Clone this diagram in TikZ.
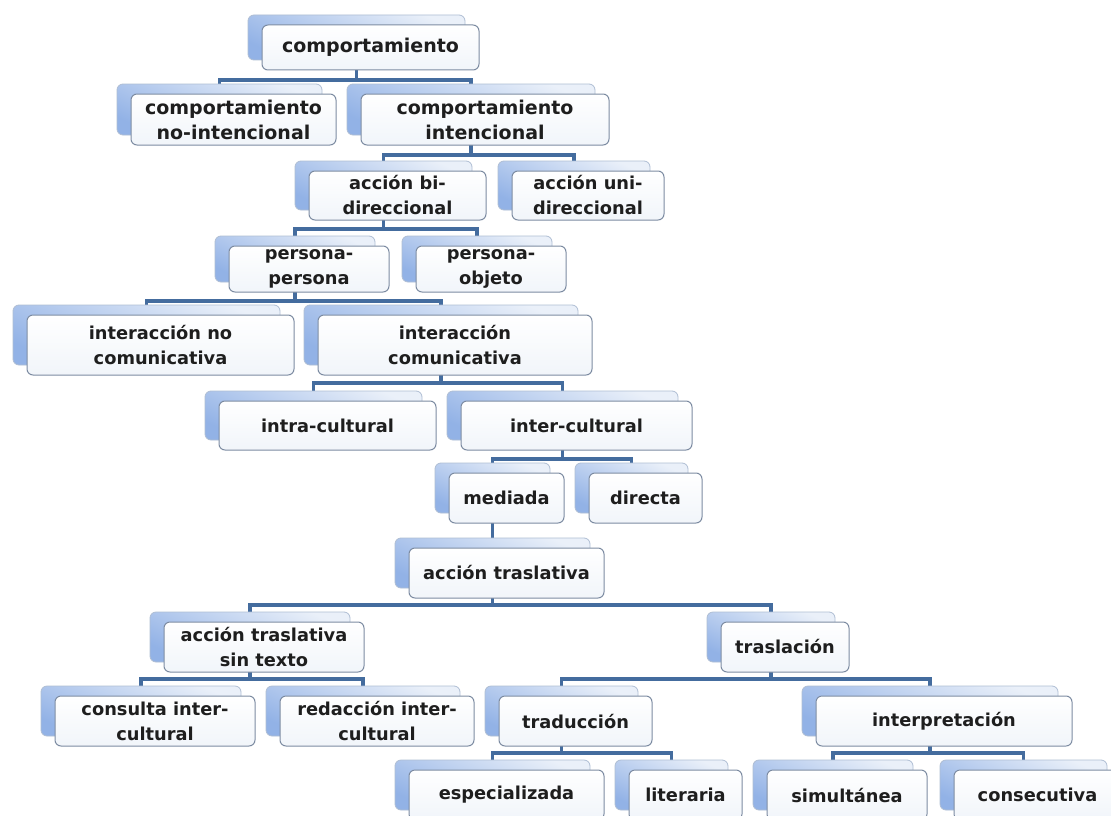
\documentclass[tikz,border=0pt]{standalone}
\usepackage{fontspec}
\setmainfont{DejaVu Sans}
\usetikzlibrary{backgrounds}
\definecolor{conncol}{RGB}{68,108,158}
\definecolor{backtop}{RGB}{234,240,249}
\definecolor{backbot}{RGB}{146,178,230}
\definecolor{backline}{RGB}{175,190,212}
\definecolor{frontline}{RGB}{125,140,162}
\definecolor{frontbot}{RGB}{241,245,250}
\definecolor{txt}{RGB}{30,30,30}
\tikzset{
  backbox/.style={draw=backline, line width=0.8pt, rounded corners=6pt,
    top color=backtop, bottom color=backbot, shading angle=-25,
    inner sep=0pt, outer sep=0pt},
  frontbox/.style={draw=frontline, line width=1pt, rounded corners=6pt,
    top color=white, bottom color=frontbot, text=txt, align=center,
    inner sep=2pt, outer sep=0pt,
    font=\fontsize{17.8}{25}\selectfont\bfseries},
  bigtext/.style={font=\fontsize{19}{25}\selectfont\bfseries},
  conn/.style={draw=conncol, line width=3.6pt}
}
% name, x1, y1, x2, y2 (back box), text
\newcommand{\smnode}[7][]{%
  \node[backbox, minimum width={(#5-#3)*1pt}, minimum height={(#6-#4)*1pt}]
    (#2b) at ({(#3+#5)/2},{(#4+#6)/2}) {};
  \node[frontbox, #1, minimum width={(#5-#3)*1pt}, minimum height={(#6-#4)*1pt}]
    (#2) at ({(#3+#5)/2+14},{(#4+#6)/2+10}) {#7};}
% parent, bar y, child1, child2
\newcommand{\smfam}[4]{%
  \coordinate (#1bar) at (0,#2);
  \draw[conn] (#1b.center) -- (#1b.center |- #1bar);
  \draw[conn] (#3b.center) -- (#3b.center |- #1bar) -- (#4b.center |- #1bar) -- (#4b.center);}
\begin{document}
\begin{tikzpicture}[x=1pt, y=-1pt]
\useasboundingbox (0,0) rectangle (1111,816);
\clip (0,0) rectangle (1111,816);

\smnode[bigtext]{top}{248}{15}{465}{60}{comportamiento}
\smnode[bigtext]{nint}{117}{84}{322}{135}{comportamiento\\no-intencional}
\smnode[bigtext]{int}{347}{84}{595}{135}{comportamiento\\intencional}
\smnode{bi}{295}{161}{472}{210}{acción bi-\\direccional}
\smnode{uni}{498}{161}{650}{210}{acción uni-\\direccional}
\smnode{pp}{215}{236}{375}{282}{persona-\\persona}
\smnode{po}{402}{236}{552}{282}{persona-\\objeto}
\smnode{inc}{13}{305}{280}{365}{interacción no\\comunicativa}
\smnode{ic}{304}{305}{578}{365}{interacción\\comunicativa}
\smnode{intra}{205}{391}{422}{440}{intra-cultural}
\smnode{inter}{447}{391}{678}{440}{inter-cultural}
\smnode{med}{435}{463}{550}{513}{mediada}
\smnode{dir}{575}{463}{688}{513}{directa}
\smnode{at}{395}{538}{590}{588}{acción traslativa}
\smnode{ats}{150}{612}{350}{662}{acción traslativa\\sin texto}
\smnode{tras}{707}{612}{835}{662}{traslación}
\smnode{cons}{41}{686}{241}{736}{consulta inter-\\cultural}
\smnode{red}{266}{686}{460}{736}{redacción inter-\\cultural}
\smnode{trad}{485}{686}{638}{736}{traducción}
\smnode{interp}{802}{686}{1058}{736}{interpretación}
\smnode{esp}{395}{760}{590}{810}{especializada}
\smnode{lit}{615}{760}{728}{810}{literaria}
\smnode{sim}{753}{760}{913}{810}{simultánea}
\smnode{csc}{940}{760}{1107}{810}{consecutiva}

\begin{pgfonlayer}{background}
\fill[white] (0,0) rectangle (1111,816);
\smfam{top}{80}{nint}{int}
\smfam{int}{155}{bi}{uni}
\smfam{bi}{229}{pp}{po}
\smfam{pp}{301}{inc}{ic}
\smfam{ic}{383}{intra}{inter}
\smfam{inter}{459}{med}{dir}
\draw[conn] (medb.center) -- (atb.center);
\smfam{at}{605}{ats}{tras}
\smfam{ats}{679}{cons}{red}
\smfam{tras}{679}{trad}{interp}
\smfam{trad}{753}{esp}{lit}
\smfam{interp}{753}{sim}{csc}
\end{pgfonlayer}
\end{tikzpicture}
\end{document}
